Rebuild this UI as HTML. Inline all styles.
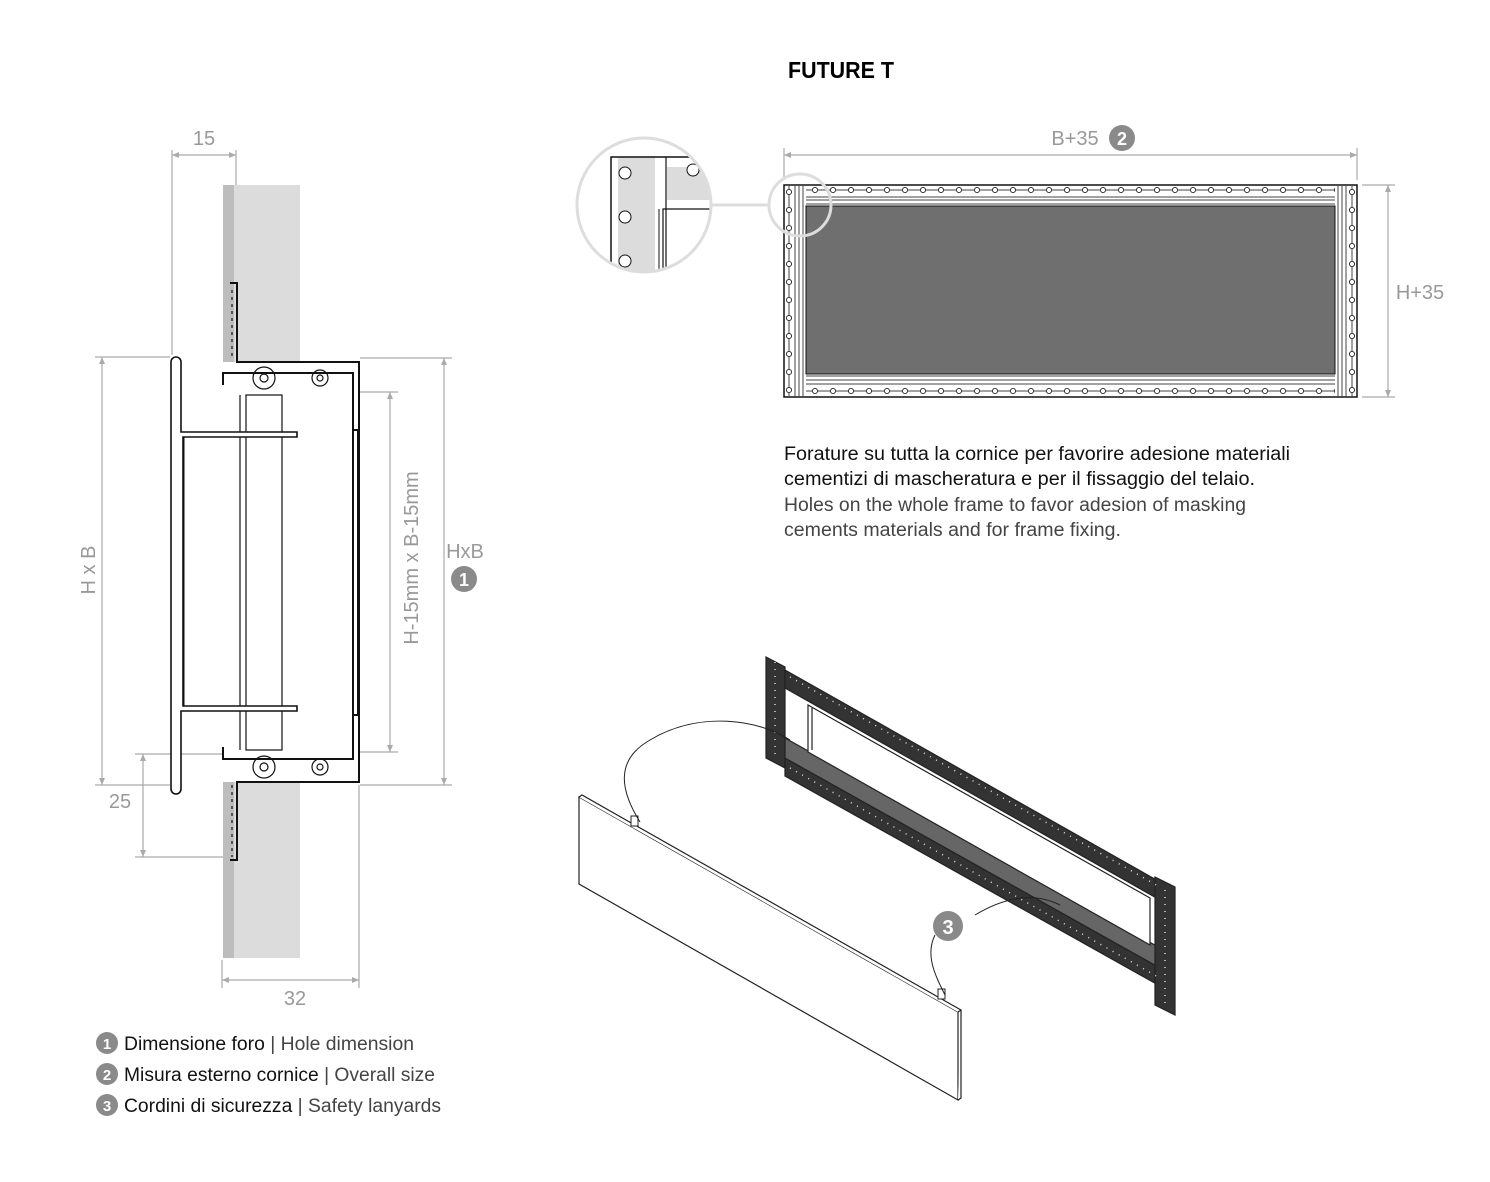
<!DOCTYPE html>
<html><head><meta charset="utf-8"><style>
html,body{margin:0;padding:0;background:#fff;}
svg{display:block;}
text{font-family:"Liberation Sans",sans-serif;}
</style></head><body>
<svg width="1490" height="1182" viewBox="0 0 1490 1182" xmlns="http://www.w3.org/2000/svg">
<defs>
<pattern id="dh1" x="806" y="185" width="18" height="10" patternUnits="userSpaceOnUse">
<circle cx="9" cy="5" r="2.6" fill="#fff" stroke="#222" stroke-width="0.9"/></pattern>
<pattern id="dh2" x="806" y="386" width="18" height="10" patternUnits="userSpaceOnUse">
<circle cx="9" cy="5" r="2.6" fill="#fff" stroke="#222" stroke-width="0.9"/></pattern>
<pattern id="dv1" x="784" y="186" width="10" height="18" patternUnits="userSpaceOnUse">
<circle cx="5" cy="6" r="2.6" fill="#fff" stroke="#222" stroke-width="0.9"/></pattern>
<pattern id="dv2" x="1347" y="186" width="10" height="18" patternUnits="userSpaceOnUse">
<circle cx="5" cy="6" r="2.6" fill="#fff" stroke="#222" stroke-width="0.9"/></pattern>
<clipPath id="cc"><circle cx="644" cy="205" r="66"/></clipPath>
</defs>

<text x="841" y="78" text-anchor="middle" font-size="23" font-weight="bold" textLength="106" lengthAdjust="spacingAndGlyphs">FUTURE T</text>

<!-- ===== LEFT SECTION ===== -->
<g stroke="#aaa" stroke-width="1.2" fill="none">
<line x1="172" y1="150" x2="172" y2="355"/><line x1="236" y1="150" x2="236" y2="185"/>
<line x1="172" y1="155" x2="236" y2="155"/>
<line x1="95" y1="357" x2="170" y2="357"/><line x1="95" y1="785" x2="170" y2="785"/>
<line x1="102" y1="357" x2="102" y2="785"/>
<line x1="135" y1="754" x2="222" y2="754"/><line x1="135" y1="857" x2="232" y2="857"/>
<line x1="143" y1="754" x2="143" y2="857"/>
<line x1="360" y1="392" x2="398" y2="392"/><line x1="360" y1="752" x2="398" y2="752"/>
<line x1="390" y1="392" x2="390" y2="752"/>
<line x1="360" y1="358" x2="452" y2="358"/><line x1="360" y1="785" x2="452" y2="785"/>
<line x1="444" y1="358" x2="444" y2="785"/>
<line x1="222" y1="960" x2="222" y2="988"/><line x1="359" y1="785" x2="359" y2="988"/>
<line x1="222" y1="980" x2="359" y2="980"/>
</g>
<g fill="#aaa">
<path d="M172 155 l7 -3 v6z"/><path d="M236 155 l-7 -3 v6z"/>
<path d="M102 357 l-3 7 h6z"/><path d="M102 785 l-3 -7 h6z"/>
<path d="M143 754 l-3 7 h6z"/><path d="M143 857 l-3 -7 h6z"/>
<path d="M390 392 l-3 7 h6z"/><path d="M390 752 l-3 -7 h6z"/>
<path d="M444 358 l-3 7 h6z"/><path d="M444 785 l-3 -7 h6z"/>
<path d="M222 980 l7 -3 v6z"/><path d="M359 980 l-7 -3 v6z"/>
</g>
<g fill="#999" font-size="20">
<text x="204" y="145" text-anchor="middle">15</text>
<text transform="translate(95,570) rotate(-90)" text-anchor="middle">H x B</text>
<text x="120" y="808" text-anchor="middle">25</text>
<text transform="translate(418,558) rotate(-90)" text-anchor="middle">H-15mm x B-15mm</text>
<text x="465" y="558" text-anchor="middle">HxB</text>
<text x="295" y="1005" text-anchor="middle">32</text>
</g>
<circle cx="464" cy="579" r="13" fill="#8a8a8a"/>
<text x="464" y="586" text-anchor="middle" fill="#fff" font-size="18" font-weight="bold">1</text>

<!-- wall -->
<rect x="223" y="185" width="77" height="773" fill="#dcdcdc"/>
<rect x="223" y="185" width="11" height="773" fill="#bdbdbd"/>
<rect x="223" y="362" width="137" height="420" fill="#fff"/>
<g stroke="#111" fill="none" stroke-width="2">
<path d="M230 283 h7 v79 h122 v420 h-122 v78 h-7"/>
<path d="M223 385 v-12 h130 v386 h-130 v-12"/>
<path d="M352 430 h6 v285 h-6"/>
</g>
<g stroke="#111" fill="none" stroke-width="1.2">
<path d="M232 290 v70 M232 785 v72" stroke-dasharray="3 4"/>
<rect x="246" y="395" width="36" height="355"/>
<line x1="240" y1="395" x2="240" y2="750"/>
<circle cx="264" cy="378" r="11"/><circle cx="264" cy="378" r="4"/>
<circle cx="320" cy="378" r="8"/><circle cx="320" cy="378" r="3"/>
<circle cx="264" cy="767" r="11"/><circle cx="264" cy="767" r="4"/>
<circle cx="320" cy="767" r="8"/><circle cx="320" cy="767" r="3"/>
</g>
<g stroke="#111" fill="#fff" stroke-width="1.6">
<path d="M171 362 a5 5 0 0 1 10 0 v70 h116 v5 h-114 v269 h114 v5 h-116 v78 a5 5 0 0 1 -10 0z"/>
</g>
<line x1="184" y1="437" x2="184" y2="706" stroke="#111" stroke-width="1"/>

<!-- ===== TOP RIGHT FRAME ===== -->
<g stroke="#aaa" stroke-width="1.2" fill="none">
<line x1="784" y1="148" x2="784" y2="180"/><line x1="1357" y1="148" x2="1357" y2="180"/>
<line x1="784" y1="155" x2="1357" y2="155"/>
<line x1="1362" y1="185" x2="1395" y2="185"/><line x1="1362" y1="397" x2="1395" y2="397"/>
<line x1="1388" y1="185" x2="1388" y2="397"/>
</g>
<g fill="#aaa">
<path d="M784 155 l7 -3 v6z"/><path d="M1357 155 l-7 -3 v6z"/>
<path d="M1388 185 l-3 7 h6z"/><path d="M1388 397 l-3 -7 h6z"/>
</g>
<text x="1075" y="145" text-anchor="middle" fill="#999" font-size="20">B+35</text>
<circle cx="1122" cy="138" r="13" fill="#8a8a8a"/>
<text x="1122" y="145" text-anchor="middle" fill="#fff" font-size="18" font-weight="bold">2</text>
<text x="1420" y="299" text-anchor="middle" fill="#999" font-size="20">H+35</text>

<rect x="784" y="185" width="573" height="212" fill="#fff" stroke="#111" stroke-width="1.5"/>
<rect x="806" y="206" width="529" height="168" fill="#6f6f6f" stroke="#111"/>
<g stroke="#444" stroke-width="1">
<line x1="806" y1="190" x2="1335" y2="190"/><line x1="806" y1="391" x2="1335" y2="391"/>
<line x1="806" y1="197" x2="1335" y2="197"/><line x1="806" y1="200" x2="1335" y2="200"/><line x1="806" y1="204" x2="1335" y2="204"/>
<line x1="806" y1="376" x2="1335" y2="376"/><line x1="806" y1="380" x2="1335" y2="380"/><line x1="806" y1="384" x2="1335" y2="384"/>
<line x1="795" y1="185" x2="795" y2="397"/><line x1="799" y1="185" x2="799" y2="397"/><line x1="803" y1="185" x2="803" y2="397"/>
<line x1="1346" y1="185" x2="1346" y2="397"/><line x1="1342" y1="185" x2="1342" y2="397"/><line x1="1338" y1="185" x2="1338" y2="397"/>
<line x1="789" y1="185" x2="789" y2="397"/><line x1="1352" y1="185" x2="1352" y2="397"/>
</g>
<rect x="806" y="185" width="529" height="10" fill="url(#dh1)"/>
<rect x="806" y="386" width="529" height="10" fill="url(#dh2)"/>
<rect x="784" y="186" width="10" height="210" fill="url(#dv1)"/>
<rect x="1347" y="186" width="10" height="210" fill="url(#dv2)"/>

<!-- detail callout -->
<circle cx="800" cy="205" r="31" fill="none" stroke="#ddd" stroke-width="3"/>
<line x1="711" y1="205" x2="769" y2="205" stroke="#ddd" stroke-width="3"/>
<circle cx="644" cy="205" r="67" fill="#fff"/>
<g clip-path="url(#cc)">
<rect x="618" y="157" width="37" height="130" fill="#dcdcdc"/>
<rect x="667" y="167" width="50" height="33" fill="#dcdcdc"/>
<path d="M611 290 V157 H720" stroke="#111" stroke-width="1.5" fill="none"/>
<line x1="666" y1="157" x2="666" y2="290" stroke="#111" stroke-width="1.2"/>
<path d="M663 290 V209 H720" stroke="#111" stroke-width="1.2" fill="none"/>
<line x1="659" y1="209" x2="659" y2="290" stroke="#111" stroke-width="1"/>
<g fill="#fff" stroke="#111" stroke-width="1"><circle cx="625" cy="173" r="6"/><circle cx="625" cy="217" r="6"/><circle cx="625" cy="261" r="6"/><circle cx="693" cy="170" r="6"/></g>
</g>
<circle cx="644" cy="205" r="67" fill="none" stroke="#ddd" stroke-width="3"/>

<g font-size="19">
<text x="784" y="460" fill="#111" textLength="506" lengthAdjust="spacingAndGlyphs">Forature su tutta la cornice per favorire adesione materiali</text>
<text x="784" y="485" fill="#111" textLength="471" lengthAdjust="spacingAndGlyphs">cementizi di mascheratura e per il fissaggio del telaio.</text>
<text x="784" y="511" fill="#444" textLength="462" lengthAdjust="spacingAndGlyphs">Holes on the whole frame to favor adesion of masking</text>
<text x="784" y="536" fill="#444" textLength="337" lengthAdjust="spacingAndGlyphs">cements materials and for frame fixing.</text>
</g>

<!-- ===== ISOMETRIC ===== -->
<g stroke="#222" stroke-width="1.2" fill="#fff">
<path d="M579 797 L958 1012 L958 1100 L579 884 Z"/>
<path d="M579 797 L582 795 L961 1010 L958 1012"/>
<path d="M961 1010 V1098 L958 1100"/>
</g>
<g stroke="#222" fill="#fff" stroke-width="1"><rect x="631" y="816" width="7" height="10"/><rect x="938" y="989" width="7" height="10"/></g>
<g stroke="#222" stroke-width="1.2">
<path d="M766 657 L785 667 L785 768 L766 758 Z" fill="#333"/>
<path d="M785 670 L1160 882 L1160 900 L785 688 Z" fill="#333"/>
<path d="M785 758 L1160 968 L1160 986 L785 776 Z" fill="#333"/>
<path d="M785 738 L1160 948 L1160 968 L785 758Z" fill="#666"/>
<path d="M1155 877 L1175 887 L1175 1015 L1155 1005 Z" fill="#333"/>
<path d="M808 705 L1150 898 L1150 945 L808 752 Z" fill="#fff"/>
<line x1="812" y1="708" x2="812" y2="750" />
</g>
<g stroke="#ddd" stroke-width="1.5" stroke-dasharray="1 6" fill="none">
<path d="M775 662 V758 M1165 890 V1008 M790 677 L1158 886 M790 768 L1158 977"/>
</g>
<g stroke="#222" stroke-width="1" fill="none">
<path d="M640 822 C620 790 615 760 650 740 C700 710 760 720 790 740"/>
<path d="M945 995 C935 975 925 955 935 935"/>
<path d="M975 915 C1000 900 1030 890 1060 905"/>
</g>
<circle cx="948" cy="926" r="15" fill="#8a8a8a"/>
<text x="948" y="934" text-anchor="middle" fill="#fff" font-size="20" font-weight="bold">3</text>

<g font-size="19">
<circle cx="107" cy="1043" r="11" fill="#8a8a8a"/><text x="107" y="1049" text-anchor="middle" fill="#fff" font-size="15" font-weight="bold">1</text>
<text x="124" y="1050" fill="#111" textLength="290" lengthAdjust="spacingAndGlyphs">Dimensione foro <tspan fill="#444">| Hole dimension</tspan></text>
<circle cx="107" cy="1074" r="11" fill="#8a8a8a"/><text x="107" y="1080" text-anchor="middle" fill="#fff" font-size="15" font-weight="bold">2</text>
<text x="124" y="1081" fill="#111" textLength="311" lengthAdjust="spacingAndGlyphs">Misura esterno cornice <tspan fill="#444">| Overall size</tspan></text>
<circle cx="107" cy="1105" r="11" fill="#8a8a8a"/><text x="107" y="1111" text-anchor="middle" fill="#fff" font-size="15" font-weight="bold">3</text>
<text x="124" y="1112" fill="#111" textLength="317" lengthAdjust="spacingAndGlyphs">Cordini di sicurezza <tspan fill="#444">| Safety lanyards</tspan></text>
</g>
</svg>
</body></html>
